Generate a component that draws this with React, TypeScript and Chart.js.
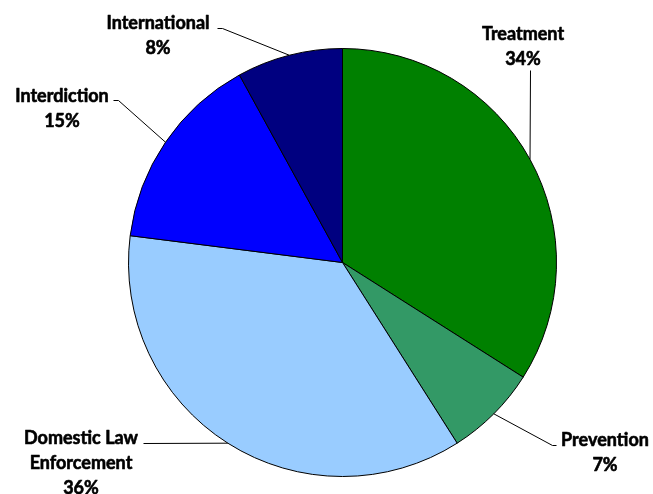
import React, { useEffect, useRef } from "react";
import { Chart, registerables } from "chart.js";

Chart.register(...registerables);

const categories = ["Treatment", "Prevention", "Domestic Law Enforcement", "Interdiction", "International"];
const values = [34, 7, 36, 15, 8];
const labelLines = [["Treatment"], ["Prevention"], ["Domestic Law", "Enforcement"], ["Interdiction"], ["International"]];
const colors = ["#008000", "#339966", "#99CCFF", "#0000FF", "#000080"];

// label layout: text center x, first baseline y, and leader path points (before arc point)
const labelLayout = [
  { x: 523, y: 40, path: [[530, 70]] },
  { x: 605, y: 446, path: [[556, 445], [552, 445]] },
  { x: 81, y: 444, path: [[143, 443]] },
  { x: 62, y: 102, path: [[113, 100], [118, 100]] },
  { x: 158, y: 29, path: [[217, 28], [222, 28]] },
];

const FONT = "bold 18px Lato";
const LINE_H = 25;

const labelPlugin = {
  id: "pieLabels",
  afterDraw(chart: any) {
    const ctx = chart.ctx;
    const meta = chart.getDatasetMeta(0);
    const total = values.reduce((a, b) => a + b, 0);
    ctx.save();
    meta.data.forEach((arc: any, i: number) => {
      const p = arc.getProps(["x", "y", "startAngle", "endAngle", "outerRadius"], true);
      const mid = (p.startAngle + p.endAngle) / 2;
      const ex = p.x + Math.cos(mid) * p.outerRadius;
      const ey = p.y + Math.sin(mid) * p.outerRadius;
      const lay = labelLayout[i];
      ctx.strokeStyle = "#000";
      ctx.lineWidth = 1;
      ctx.beginPath();
      lay.path.forEach((pt, k) => {
        if (k === 0) ctx.moveTo(pt[0] + 0.5, pt[1] + 0.5);
        else ctx.lineTo(pt[0] + 0.5, pt[1] + 0.5);
      });
      ctx.lineTo(ex, ey);
      ctx.stroke();

      ctx.fillStyle = "#000";
      ctx.strokeStyle = "#000";
      ctx.lineWidth = 0.6;
      ctx.lineJoin = "round";
      ctx.font = FONT;
      ctx.textAlign = "center";
      ctx.textBaseline = "alphabetic";
      const lines = [...labelLines[i], Math.round((values[i] / total) * 100) + "%"];
      lines.forEach((t, k) => {
        ctx.fillText(t, lay.x, lay.y + k * LINE_H);
        ctx.strokeText(t, lay.x, lay.y + k * LINE_H);
      });
    });
    ctx.restore();
  },
};

export default function App() {
  const ref = useRef<HTMLCanvasElement | null>(null);
  useEffect(() => {
    if (!ref.current) return;
    const chart = new Chart(ref.current, {
      type: "pie",
      data: {
        labels: categories,
        datasets: [
          {
            data: values,
            backgroundColor: colors,
            borderColor: "#000000",
            borderWidth: 1,
          },
        ],
      },
      options: {
        responsive: false,
        animation: false,
        devicePixelRatio: 1,
        radius: 214,
        layout: { padding: { top: 48, bottom: 17, left: 128, right: 96 } },
        plugins: {
          legend: { display: false },
          tooltip: { enabled: false },
          title: { display: false },
        },
      } as any,
      plugins: [labelPlugin],
    });
    return () => chart.destroy();
  }, []);
  return (
    <div style={{ position: "absolute", left: 0, top: 0, width: 653, height: 494, background: "#fff" }}>
      <canvas ref={ref} width={653} height={494} />
    </div>
  );
}
